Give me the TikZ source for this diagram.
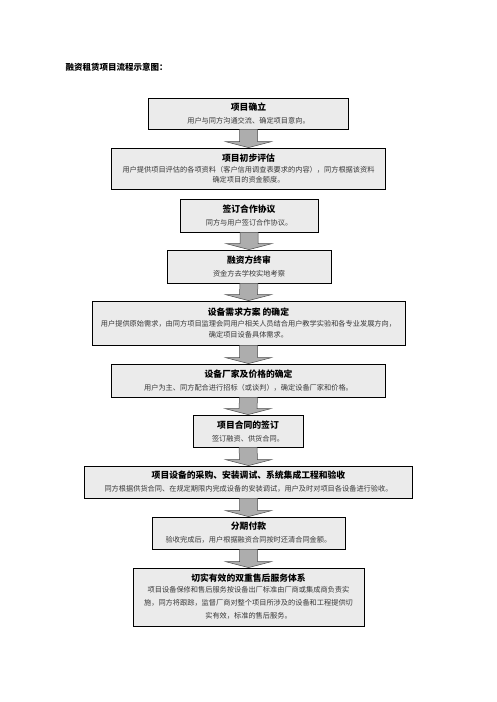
\documentclass[tikz,border=0pt]{standalone}
\usepackage{fontspec}
\setmainfont{Noto Sans CJK SC}
\usetikzlibrary{calc}
\tikzset{
  flowbox/.style={draw=black, line width=0.8pt, fill=black!8, inner sep=0pt, align=center, anchor=center},
  boxtitle/.style={},
  blockarrow/.style={draw=black!70, line width=0.5pt, fill=black!32}
}
\newcommand{\bt}[1]{{\fontsize{8.8pt}{12pt}\selectfont\bfseries #1}}
\newcommand{\bb}[1]{{\fontsize{7.2pt}{12pt}\selectfont\color{black!78}#1}}
\begin{document}
\begin{tikzpicture}[x=1pt,y=1pt]
\useasboundingbox[fill=white] (0,0) rectangle (496,-702);
\node[anchor=west, font=\fontsize{8.5pt}{10pt}\selectfont\bfseries] (title) at (62,-67) {融资租赁项目流程示意图：};

\node[flowbox, minimum width=200, minimum height=31] (b1) at (248.5,-113.5)
  {\bt{项目确立}\\[1pt]\bb{用户与同方沟通交流、确定项目意向。}};
\node[flowbox, minimum width=274, minimum height=41] (b2) at (248.5,-168.5)
  {\bt{项目初步评估}\\[-1pt]\bb{用户提供项目评估的各项资料（客户信用调查表要求的内容），同方根据该资料}\\[-1.5pt]\bb{确定项目的资金额度。}};
\node[flowbox, minimum width=138, minimum height=33] (b3) at (249,-215.5)
  {\bt{签订合作协议}\\[1pt]\bb{同方与用户签订合作协议。}};
\node[flowbox, minimum width=164, minimum height=33] (b4) at (249,-266.5)
  {\bt{融资方终审}\\[1pt]\bb{资金方去学校实地考察}};
\node[flowbox, minimum width=313, minimum height=44] (b5) at (248.5,-323)
  {\bt{设备需求方案\ 的确定}\\[-1pt]\bb{用户提供原始需求，由同方项目监理会同用户相关人员结合用户教学实验和各专业发展方向，}\\[-1pt]\bb{确定项目设备具体需求。}};
\node[flowbox, minimum width=274, minimum height=33] (b6) at (248.5,-380.5)
  {\bt{设备厂家及价格的确定}\\[1pt]\bb{用户为主、同方配合进行招标（或谈判），确定设备厂家和价格。}};
\node[flowbox, minimum width=110, minimum height=32] (b7) at (248,-431)
  {\bt{项目合同的签订}\\[1pt]\bb{签订融资、供货合同。}};
\node[flowbox, minimum width=328, minimum height=32] (b8) at (248.5,-482)
  {\bt{项目设备的采购、安装调试、系统集成工程和验收}\\[1pt]\bb{同方根据供货合同、在规定期限内完成设备的安装调试，用户及时对项目各设备进行验收。}};
\node[flowbox, minimum width=193, minimum height=32] (b9) at (248.5,-533)
  {\bt{分期付款}\\[1pt]\bb{验收完成后，用户根据融资合同按时还清合同金额。}};
\node[flowbox, minimum width=231, minimum height=58] (b10) at (248.5,-597)
  {\bt{切实有效的双重售后服务体系}\\[-1pt]\bb{项目设备保修和售后服务按设备出厂标准由厂商或集成商负责实}\\[1pt]\bb{施，同方将跟踪，监督厂商对整个项目所涉及的设备和工程提供切}\\[1pt]\bb{实有效，标准的售后服务。}};

\foreach \a/\b in {b1/b2,b3/b4,b4/b5,b5/b6,b6/b7,b7/b8,b8/b9,b9/b10}{
  \draw[blockarrow]
    ($(\a.south)+(-9,0)$) -- ($(\b.north)+(-9,6)$) -- ($(\b.north)+(-23,6)$) --
    (\b.north) -- ($(\b.north)+(23,6)$) -- ($(\b.north)+(9,6)$) -- ($(\a.south)+(9,0)$);
}
\end{tikzpicture}
\end{document}
